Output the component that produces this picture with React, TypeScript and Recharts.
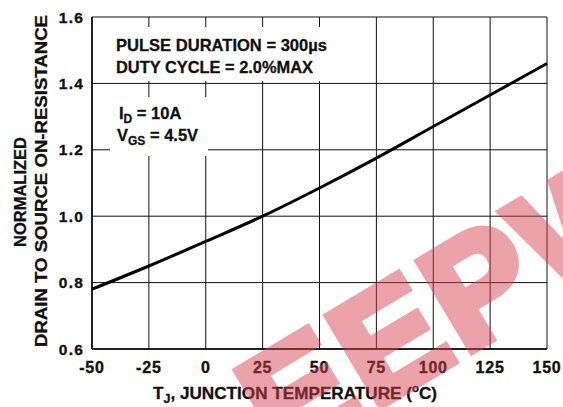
import { LineChart, Line, XAxis, YAxis, CartesianGrid } from 'recharts';

const temps = [-50, -25, 0, 25, 50, 75, 100, 125, 150];
const rdsOn = [0.78, 0.85, 0.924, 1.0, 1.085, 1.175, 1.27, 1.365, 1.46];
const xTicks = [-50, -25, 0, 25, 50, 75, 100, 125, 150];
const yTicks = [0.6, 0.8, 1.0, 1.2, 1.4, 1.6];

const data = temps.map((t, i) => ({ t, r: rdsOn[i] }));

const FONT = 'Arial, "Liberation Sans", Helvetica, sans-serif';

// wide, heavy digits like the scanned datasheet
function XTick({ x, y, payload }: any) {
  return (
    <text x={x} y={y} dy={24} textAnchor="middle" fontFamily={FONT} fontWeight={700} fontSize={16}
      letterSpacing={0.8} fill="#111" stroke="#111" strokeWidth={0.35}>
      {payload.value}
    </text>
  );
}

function YTick({ x, y, payload }: any) {
  return (
    <text x={x} y={y} dy={5.5} textAnchor="end" fontFamily={FONT} fontWeight={700} fontSize={15.5}
      letterSpacing={1.2} fill="#111" stroke="#111" strokeWidth={0.35}>
      {Number(payload.value).toFixed(1)}
    </text>
  );
}

export default function App() {
  return (
    <div style={{ position: 'absolute', left: 0, top: 0, width: 563, height: 407, background: '#fff' }}>
      <LineChart width={563} height={407} data={data} margin={{ top: 17, right: 16, bottom: 28, left: 0 }}>
        <CartesianGrid stroke="#111" strokeWidth={1} horizontalValues={yTicks} verticalValues={xTicks} />
        <XAxis
          dataKey="t"
          type="number"
          domain={[-50, 150]}
          ticks={xTicks}
          height={30}
          tickLine={false}
          tickSize={0}
          tickMargin={0}
          axisLine={{ stroke: '#000', strokeWidth: 1.5 }}
          tick={<XTick />}
          interval={0}
        />
        <YAxis
          type="number"
          domain={[0.6, 1.6]}
          ticks={yTicks}
          width={92}
          tickLine={false}
          tickSize={0}
          tickMargin={8}
          axisLine={{ stroke: '#000', strokeWidth: 1.5 }}
          tick={<YTick />}
          interval={0}
        />
        <Line dataKey="r" type="monotone" stroke="#000" strokeWidth={3} dot={false} isAnimationActive={false} />
      </LineChart>
      <svg width={563} height={407} style={{ position: 'absolute', left: 0, top: 0, pointerEvents: 'none' }}>
        <rect x={104} y={27} width={226} height={54} fill="#fff" />
        <rect x={110} y={97} width={98} height={59} fill="#fff" />
        <g fontFamily={FONT} fontWeight={700} fontSize={16.5} fill="#111" stroke="#111" strokeWidth={0.3}>
          <text x={116} y={51} textLength={211} lengthAdjust="spacingAndGlyphs">PULSE DURATION = 300µs</text>
          <text x={116} y={72.5} textLength={197} lengthAdjust="spacingAndGlyphs">DUTY CYCLE = 2.0%MAX</text>
          <text x={119} y={118.5}>
            I<tspan fontSize={12} dy={4}>D</tspan>
            <tspan dy={-4}> = 10A</tspan>
          </text>
          <text x={117} y={141}>
            V<tspan fontSize={12} dy={4}>GS</tspan>
            <tspan dy={-4}> = 4.5V</tspan>
          </text>
        </g>
        <g fontFamily={FONT} fontWeight={700} fontSize={16.5} fill="#111" stroke="#111" strokeWidth={0.3}>
          <text x={153} y={398.5} textLength={284} lengthAdjust="spacingAndGlyphs">
            T<tspan fontSize={12} dy={4}>J</tspan>
            <tspan dy={-4}>, JUNCTION TEMPERATURE (</tspan>
            <tspan fontSize={11} dy={-7}>o</tspan>
            <tspan dy={7}>C)</tspan>
          </text>
          <text transform="translate(26,247) rotate(-90)" textLength={110} lengthAdjust="spacingAndGlyphs">NORMALIZED</text>
          <text transform="translate(47,347) rotate(-90)" textLength={332} lengthAdjust="spacingAndGlyphs">DRAIN TO SOURCE ON-RESISTANCE</text>
        </g>
        {/* watermark from the scanned source */}
        <text
          transform="translate(455,300) rotate(-31)"
          textAnchor="middle"
          dominantBaseline="central"
          fontFamily={FONT}
          fontWeight={700}
          fontSize={150}
          letterSpacing={6}
          fill="#d6404e"
          stroke="#d6404e"
          strokeWidth={9}
          strokeLinejoin="miter"
          opacity={0.48}
        >
          EEPW
        </text>
      </svg>
    </div>
  );
}
